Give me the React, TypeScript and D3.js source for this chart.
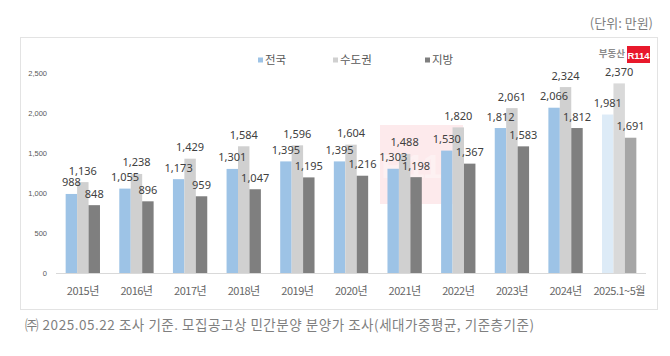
import React from "react";
import * as d3 from "d3";

const categories = ["2015년", "2016년", "2017년", "2018년", "2019년", "2020년", "2021년", "2022년", "2023년", "2024년", "2025.1~5월"];
const seriesNames = ["전국", "수도권", "지방"];
const nationwide = [988, 1055, 1173, 1301, 1395, 1395, 1303, 1530, 1812, 2066, 1981];
const capital = [1136, 1238, 1429, 1584, 1596, 1604, 1488, 1820, 2061, 2324, 2370];
const regional = [848, 896, 959, 1047, 1195, 1216, 1198, 1367, 1583, 1812, 1691];
const yTicks = [0, 500, 1000, 1500, 2000, 2500];
const colors = ["#9DC3E6", "#D0D0D0", "#7F7F7F"];
const lastColors = ["#DDEBF7", "#D9D9D9", "#A6A6A6"];

const W = 670;
const H = 356;
const KR = "'Malgun Gothic', 'Noto Sans CJK KR', sans-serif";

export default function App() {
  const series = [nationwide, capital, regional];
  const x = d3.scaleBand<string>().domain(categories).range([56, 646]).paddingInner(0.36).paddingOuter(0.18);
  const xs = d3.scaleBand<string>().domain(seriesNames).range([0, x.bandwidth()]).padding(0);
  const y = d3.scaleLinear().domain([0, 2500]).range([273, 73]);
  const fmt = d3.format(",");

  const legendX = [258, 333, 425];

  return (
    <svg width={W} height={H} style={{ position: "absolute", left: 0, top: 0, background: "#fff" }} fontFamily={KR}>
      <rect x={0} y={0} width={W} height={H} fill="#fff" />
      <text x={653} y={28} textAnchor="end" fontSize={13} fill="#7F7F7F">(단위: 만원)</text>
      <rect x={20.5} y={37.5} width={637} height={272} fill="#fff" stroke="#E3E3E3" strokeWidth={1} />

      {/* watermark */}
      <rect x={380} y={125} width={83} height={79} fill="#E8192C" opacity={0.09} />
      <text x={421} y={178} textAnchor="middle" fontSize={34} fontWeight={700} fill="#fff" opacity={0.35} fontFamily="Arial, sans-serif">R114</text>
      <text x={315} y={192} textAnchor="middle" fontSize={44} fontWeight={700} fill="#fff" opacity={0.25}>부동산</text>

      {/* logo */}
      <text x={625} y={57} textAnchor="end" fontSize={9.5} fontWeight={700} fill="#8C8C8C">부동산</text>
      <rect x={627} y={46} width={23} height={17} fill="#E8192C" />
      <text x={638.5} y={58.5} textAnchor="middle" fontSize={9.5} fontWeight={700} fill="#fff" fontFamily="Arial, sans-serif">R114</text>

      {/* legend */}
      {seriesNames.map((s, i) => (
        <g key={s}>
          <rect x={legendX[i]} y={57.5} width={5} height={5} fill={colors[i]} />
          <text x={legendX[i] + 7} y={64} fontSize={11.5} fill="#595959">{s}</text>
        </g>
      ))}

      {/* y axis labels */}
      {yTicks.map((t) => (
        <text key={t} x={47} y={y(t) + 2.5} textAnchor="end" fontSize={7.5} fill="#595959" fontFamily="Arial, sans-serif">{fmt(t)}</text>
      ))}

      {/* bars */}
      {categories.map((c, ci) => (
        <g key={c}>
          {seriesNames.map((s, si) => {
            const v = series[si][ci];
            const bx = (x(c) as number) + (xs(s) as number);
            const last = ci === categories.length - 1;
            return (
              <rect key={s} x={bx} y={y(v)} width={xs.bandwidth()} height={y(0) - y(v)} fill={last ? lastColors[si] : colors[si]} />
            );
          })}
        </g>
      ))}

      {/* axis line */}
      <line x1={56} x2={646} y1={273.5} y2={273.5} stroke="#D9D9D9" strokeWidth={1} />

      {/* data labels */}
      {categories.map((c, ci) => (
        <g key={c + "l"}>
          {seriesNames.map((s, si) => {
            const v = series[si][ci];
            const cx = (x(c) as number) + (xs(s) as number) + xs.bandwidth() / 2;
            return (
              <text key={s} x={cx} y={y(v) - 7.5} textAnchor="middle" fontSize={11} fill="#404040" fontFamily="'Noto Sans', sans-serif">{fmt(v)}</text>
            );
          })}
        </g>
      ))}

      {/* x labels */}
      {categories.map((c) => (
        <text key={c} x={(x(c) as number) + x.bandwidth() / 2} y={295} textAnchor="middle" fontSize={11} fill="#666666" letterSpacing={-0.5}>{c}</text>
      ))}

      <text x={25} y={330} fontSize={13.5} fill="#7F7F7F" textLength={509} lengthAdjust="spacing">㈜ 2025.05.22 조사 기준. 모집공고상 민간분양 분양가 조사(세대가중평균, 기준층기준)</text>
    </svg>
  );
}
